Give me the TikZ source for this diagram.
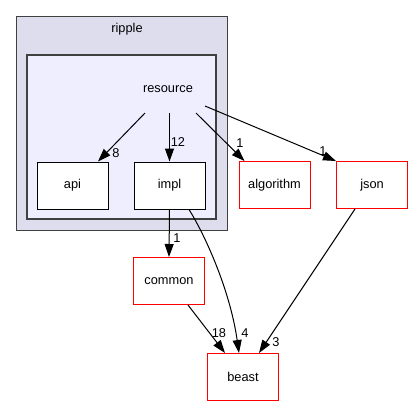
\documentclass[tikz,border=0pt]{standalone}
\usepackage{fontspec}
\setmainfont{Liberation Sans}
\usetikzlibrary{arrows.meta,calc}
\definecolor{outerfill}{HTML}{DDDDEE}
\definecolor{innerfill}{HTML}{EEEEFF}
\definecolor{frame}{HTML}{404040}
\begin{document}
\begin{tikzpicture}[x=1pt,y=-1pt,
  txt/.style={font=\fontsize{12.8}{15}\selectfont, inner sep=0pt},
  dirbox/.style={txt, draw=black, fill=white, line width=1pt,
    minimum width=71pt, minimum height=47pt},
  extbox/.style={dirbox, draw=red},
  dep/.style={draw=black, line width=1pt, -{Triangle[length=13pt,width=9pt]}},
  ]
\useasboundingbox (0,0) rectangle (413,407);

% package clusters
\draw[frame, fill=outerfill, line width=1pt] (16,16) rectangle (227,230);
\node[txt] (ripple) at (127,29) {ripple};
\draw[frame, fill=innerfill, line width=1.5pt] (27,55) rectangle (216,219);
\node[txt] (resource) at (168,89) {resource};

% directories
\node[dirbox] (api)       at (72.5,185.5) {api};
\node[dirbox] (impl)      at (169.5,185.5) {impl};
\node[extbox] (algorithm) at (274.5,185) {algorithm};
\node[extbox] (json)      at (372,185) {json};
\node[extbox] (common)    at (169,281) {common};
\node[extbox] (beast)     at (243,377) {beast};

% edge start points below the resource label
\coordinate (rapi)  at (145,113);
\coordinate (rimpl) at (169.5,113);
\coordinate (ralg)  at (196,113);
\coordinate (rjson) at (205,106);

% dependencies
\draw[dep] (rapi) -- ($(api.north)+(25.5,0)$);
\node[txt] (l8) at (116,153) {8};
\draw[dep] (rimpl) -- (impl.north);
\node[txt] (l12) at (178,142) {12};
\draw[dep] (ralg) -- ($(algorithm.north west)+(6,0)$);
\node[txt] (l1a) at (240,143) {1};
\draw[dep] (rjson) -- (json.north west);
\node[txt] (l1b) at (323,151) {1};
\draw[dep] (impl.south) -- (common.north);
\node[txt] (l1c) at (177,238) {1};
\draw[dep] ($(impl.south)+(19.5,0)$) .. controls (205,235) and (230,290) .. ($(beast.north)+(-4,0)$);
\node[txt] (l4) at (245,333) {4};
\draw[dep] ($(common.south)+(19,0)$) -- ($(beast.north)+(-18,0)$);
\node[txt] (l18) at (219,333) {18};
\draw[dep] ($(json.south)+(-17,0)$) -- ($(beast.north)+(16,0)$);
\node[txt] (l3) at (276,342) {3};
\end{tikzpicture}
\end{document}
